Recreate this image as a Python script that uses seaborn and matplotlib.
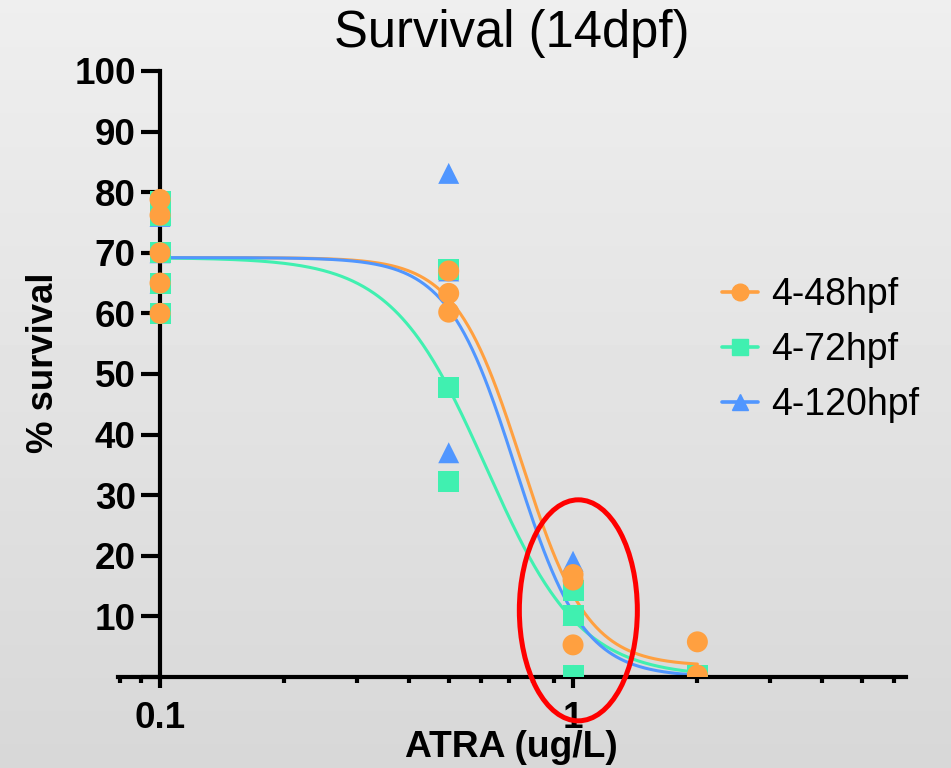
import numpy as np
import pandas as pd
import matplotlib.pyplot as plt
import matplotlib.transforms as mtransforms
import seaborn as sns
from matplotlib.lines import Line2D
from matplotlib.patches import Ellipse
from matplotlib.ticker import LogLocator, NullFormatter

# data
series = ["4-48hpf", "4-72hpf", "4-120hpf"]
colors = ["#FFA040", "#40F0B0", "#5096FF"]
markers = ["o", "s", "^"]

dose_48 = [0.1, 0.1, 0.1, 0.1, 0.1, 0.5, 0.5, 0.5, 1, 1, 1, 2, 2]
surv_48 = [78.8, 76.2, 70, 65, 60, 67, 63.3, 60.2, 16.9, 16.0, 5.3, 5.8, 0.3]

dose_72 = [0.1, 0.1, 0.1, 0.1, 0.1, 0.5, 0.5, 0.5, 1, 1, 1, 2, 2]
surv_72 = [78.5, 76.1, 70, 65, 60, 67.3, 47.8, 32.2, 14.3, 10.2, 0.3, 0.3, 0]

dose_120 = [0.1, 0.1, 0.1, 0.5, 0.5, 0.5, 1, 1, 1, 2, 2]
surv_120 = [76, 70, 65, 83.1, 67, 37.0, 19.1, 10.2, 0.3, 0.3, 0]

# fitted dose-response (4PL) parameters per series
fit_top = [69.2, 69.2, 69.2]
fit_bottom = [1.8, 0.0, 0.0]
fit_ec50 = [0.75, 0.616, 0.725]
fit_hill = [5.4, 3.8, 5.3]

sns.set_style("ticks")
plt.rcParams["font.family"] = ["Liberation Sans", "DejaVu Sans"]
plt.rcParams["text.color"] = "black"
plt.rcParams["xtick.color"] = "black"
plt.rcParams["ytick.color"] = "black"

# blue first, orange last so orange sits on top
pts = pd.concat([
    pd.DataFrame({"dose": dose_120, "survival": surv_120, "group": series[2]}),
    pd.DataFrame({"dose": dose_72, "survival": surv_72, "group": series[1]}),
    pd.DataFrame({"dose": dose_48, "survival": surv_48, "group": series[0]}),
], ignore_index=True)

grid = np.logspace(np.log10(0.1), np.log10(2), 400)
curves = pd.concat([
    pd.DataFrame({
        "dose": grid,
        "survival": b + (t - b) / (1 + (grid / c) ** h),
        "group": name,
    })
    for name, t, b, c, h in zip(series, fit_top, fit_bottom, fit_ec50, fit_hill)
], ignore_index=True)

fig = plt.figure(figsize=(9.51, 7.68), dpi=100)

# light grey vertical gradient behind everything
bg = fig.add_axes([0, 0, 1, 1], zorder=-5)
bg.imshow(np.linspace(0.935, 0.845, 256).reshape(-1, 1), cmap="gray", vmin=0, vmax=1,
          aspect="auto", extent=[0, 1, 0, 1])
bg.axis("off")

ax = fig.add_axes([0.1238, 0.1185, 0.8289, 0.7891])
ax.set_facecolor("none")
ax.set_xscale("log")
ax.set_xlim(0.079, 6.4)
ax.set_ylim(0, 100)

sns.lineplot(data=curves, x="dose", y="survival", hue="group", hue_order=series,
             palette=colors, linewidth=2.2, estimator=None, legend=False, ax=ax, zorder=2)
sns.scatterplot(data=pts, x="dose", y="survival", hue="group", style="group",
                hue_order=series, style_order=series, palette=colors,
                markers=dict(zip(series, markers)), s=228, linewidth=0,
                legend=False, ax=ax, zorder=3)

for side in ["top", "right"]:
    ax.spines[side].set_visible(False)
ax.spines["left"].set_position(("data", 0.1))
for side in ["left", "bottom"]:
    ax.spines[side].set_linewidth(3.0)
    ax.spines[side].set_color("black")

ax.set_yticks(range(0, 101, 10))
ax.set_yticklabels([""] + [str(v) for v in range(10, 101, 10)])
ax.set_xticks([0.1, 1])
ax.set_xticklabels(["0.1", "1"])
ax.xaxis.set_minor_locator(LogLocator(base=10, subs=np.arange(2, 10)))
ax.xaxis.set_minor_formatter(NullFormatter())
ax.tick_params(axis="y", direction="out", length=14, width=3.0, pad=3.5,
               labelsize=26.5, color="black", labelcolor="black")
ax.tick_params(axis="x", which="major", direction="out", length=8, width=3.0, pad=9,
               labelsize=26.5, color="black", labelcolor="black")
ax.tick_params(axis="x", which="minor", direction="out", length=4.5, width=3.0)
for lab in ax.get_xticklabels() + ax.get_yticklabels():
    lab.set_fontweight("bold")
ax.set_xlabel("")
ax.set_ylabel("")

fig.text(511.5 / 951, 1 - 757 / 768, "ATRA (ug/L)", ha="center", va="baseline",
         fontsize=26.8, fontweight="bold", color="black")
fig.text(53 / 951, 1 - 363 / 768, "% survival", ha="center", va="baseline",
         rotation=90, rotation_mode="anchor", fontsize=26.3, fontweight="bold",
         color="black")
fig.text(512 / 951, 1 - 47 / 768, "Survival (14dpf)", ha="center", va="baseline",
         fontsize=36.5, color="black")

handles = [Line2D([0], [0], color=c, marker=m, markersize=12, linewidth=2.6)
           for c, m in zip(colors, markers)]
leg = ax.legend(handles, series, loc="upper left",
                bbox_to_anchor=(722 / 951, 1 - 277 / 768),
                bbox_transform=fig.transFigure, frameon=False, fontsize=27,
                handlelength=0.95, handletextpad=0.37, labelspacing=0.51,
                borderpad=0, borderaxespad=0)
for t in leg.get_texts():
    t.set_color("black")

# red ellipse highlighting the 1 ug/L group
trans = fig.dpi_scale_trans + mtransforms.ScaledTranslation(1.03, 11.0, ax.transData)
ax.add_patch(Ellipse((0, 0), width=1.18, height=2.21, transform=trans, fill=False,
                     edgecolor="#FF0000", linewidth=3.6, clip_on=False, zorder=6))

fig.savefig("out.png", dpi=100)
